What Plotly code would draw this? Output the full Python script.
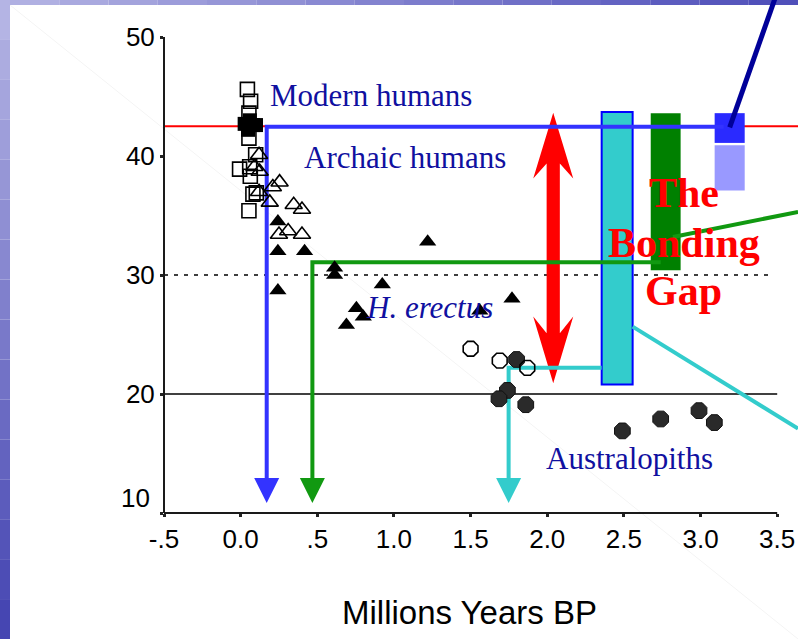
import plotly.graph_objects as go

# ---------------------------------------------------------------- data
# Open squares / filled squares: modern humans
sq_open_x = [0.044, 0.065, 0.054, 0.054, 0.098, -0.007, 0.059, 0.063, 0.102, 0.080, 0.054]
sq_open_y = [45.6, 44.6, 43.6, 41.5, 40.1, 38.9, 39.1, 38.3, 36.9, 36.8, 35.4]
sq_fill_x = [0.026, 0.080, 0.048, 0.100, 0.060]
sq_fill_y = [42.7, 42.6, 42.2, 42.6, 43.0]

# Open triangles: archaic humans
tri_open_x = [0.12, 0.09, 0.124, 0.12, 0.254, 0.21, 0.19, 0.346, 0.40, 0.25, 0.31, 0.40]
tri_open_y = [40.1, 39.1, 38.7, 37.0, 37.8, 37.4, 36.1, 35.9, 35.5, 33.4, 33.7, 33.4]

# Filled triangles: H. erectus
tri_fill_x = [0.243, 0.243, 0.417, 0.243, 0.613, 0.613, 0.924, 1.22, 0.755, 0.80, 0.69, 1.56, 1.77]
tri_fill_y = [34.5, 32.0, 32.0, 28.7, 30.6, 30.0, 29.2, 32.8, 27.2, 26.5, 25.8, 27.0, 28.0]

# Open and filled circles: australopiths
circ_open_x = [1.50, 1.69, 1.87]
circ_open_y = [23.8, 22.8, 22.2]
circ_fill_x = [1.80, 1.74, 1.685, 1.86, 2.49, 2.74, 2.99, 3.09]
circ_fill_y = [22.9, 20.3, 19.6, 19.1, 16.9, 17.9, 18.6, 17.6]

# Reference levels
modern_level = 42.5
dashed_level = 30
solid_level = 20

# Connectors: (drop position, level, end of horizontal run, colour)
conn_x = [0.17, 0.468, 1.748]
conn_level = [42.46, 31.07, 22.2]
conn_end = [3.15, 2.74, 2.355]
conn_color = ["#3333ff", "#119911", "#33cccc"]
conn_arrow_top = 12.94

# Range bars on the right
bar_center = [2.456, 2.7725, 3.19, 3.19]
bar_width = [0.202, 0.195, 0.196, 0.196]
bar_base = [20.8, 30.4, 41.1, 37.1]
bar_top = [43.7, 43.6, 43.6, 40.9]
bar_fill = ["#33cccc", "#008000", "#2a2aff", "#9999ff"]
bar_edge = ["#0000ff", "#008000", "#2a2aff", "#9999ff"]
bar_edge_w = [2, 0, 0, 0]

# Callout leader lines
green_call_x = [2.82, 3.636]
green_call_y = [33.2, 35.3]
cyan_call_x = [2.557, 3.636]
cyan_call_y = [25.66, 17.1]
navy_call_x = [3.19, 3.49]
navy_call_y = [42.4, 53.4]

# Double arrow marking the gap
gap_x = 2.039
gap_top = 43.64
gap_bottom = 20.9

x_tickvals = [-0.5, 0.0, 0.5, 1.0, 1.5, 2.0, 2.5, 3.0, 3.5]
x_ticktext = ["-.5", "0.0", ".5", "1.0", "1.5", "2.0", "2.5", "3.0", "3.5"]
y_tickvals = [10, 20, 30, 40, 50]
y_ticktext = ["", "20", "30", "40", "50"]

# ---------------------------------------------------------------- geometry
W, H = 798, 639
L, B = 164, 126
PW, PH = W - L, H - B
XPX, YPX = 153.3, 11.9          # pixels per data unit
x_range = [-0.5, -0.5 + PW / XPX]
y_range = [10, 10 + PH / YPX]


def dx(px):
    return px / XPX


def dy(px):
    return px / YPX


def pxp(px):
    return (px - L) / PW


def pyp(py):
    return (PH - py) / PH


fig = go.Figure()

# range bars
for c, w, b, t, f, e, ew in zip(bar_center, bar_width, bar_base, bar_top, bar_fill, bar_edge, bar_edge_w):
    fig.add_trace(go.Bar(x=[c], y=[t - b], base=[b], width=[w],
                         marker=dict(color=f, line=dict(color=e, width=ew)),
                         hoverinfo="skip"))

# connectors
for x, lv, end, col in zip(conn_x, conn_level, conn_end, conn_color):
    fig.add_trace(go.Scatter(x=[end, x, x], y=[lv, lv, conn_arrow_top], mode="lines",
                             line=dict(color=col, width=4)))

# callout lines
fig.add_trace(go.Scatter(x=green_call_x, y=green_call_y, mode="lines",
                         line=dict(color="#119911", width=4)))
fig.add_trace(go.Scatter(x=cyan_call_x, y=cyan_call_y, mode="lines",
                         line=dict(color="#33cccc", width=4)))
fig.add_trace(go.Scatter(x=navy_call_x, y=navy_call_y, mode="lines",
                         line=dict(color="#000099", width=5)))

# fossils
fig.add_trace(go.Scatter(x=circ_fill_x, y=circ_fill_y, mode="markers",
                         marker=dict(symbol="octagon", size=17, color="#2a2a2a",
                                     line=dict(color="#111", width=1))))
fig.add_trace(go.Scatter(x=circ_open_x, y=circ_open_y, mode="markers",
                         marker=dict(symbol="octagon-open", size=16, color="black",
                                     line=dict(width=1.6))))
fig.add_trace(go.Scatter(x=tri_fill_x, y=tri_fill_y, mode="markers",
                         marker=dict(symbol="triangle-up", size=15, color="black")))
fig.add_trace(go.Scatter(x=tri_open_x, y=tri_open_y, mode="markers",
                         marker=dict(symbol="triangle-up-open", size=15, color="black",
                                     line=dict(width=1.6))))
fig.add_trace(go.Scatter(x=sq_fill_x, y=sq_fill_y, mode="markers",
                         marker=dict(symbol="square", size=14, color="black")))
fig.add_trace(go.Scatter(x=sq_open_x, y=sq_open_y, mode="markers",
                         marker=dict(symbol="square-open", size=14, color="black",
                                     line=dict(width=1.6))))

shapes = []

# slide frame: faint diagonal and textured blue edges
shapes.append(dict(type="line", xref="paper", yref="paper", x0=pxp(10), y0=pyp(5),
                   x1=pxp(798), y1=pyp(639), line=dict(color="#f4f4f4", width=1), layer="below"))
n = 16
for i in range(n):
    t = i / (n - 1)
    r = int(180 - 110 * t)
    g = int(180 - 110 * t)
    b_ = int(228 - 50 * t)
    y_a = i * H / n
    y_b = (i + 1) * H / n
    shapes.append(dict(type="rect", xref="paper", yref="paper", x0=pxp(0), x1=pxp(10),
                       y0=pyp(y_b), y1=pyp(y_a), line=dict(width=0),
                       fillcolor=f"rgb({r},{g},{b_})", layer="below"))
for i in range(n):
    t = i / (n - 1)
    r = int(176 - 96 * t)
    g = int(176 - 96 * t)
    b_ = int(226 - 40 * t)
    x_a = 10 + i * (W - 10) / n
    x_b = 10 + (i + 1) * (W - 10) / n
    shapes.append(dict(type="rect", xref="paper", yref="paper", x0=pxp(x_a), x1=pxp(x_b),
                       y0=pyp(5), y1=pyp(0), line=dict(width=0),
                       fillcolor=f"rgb({r},{g},{b_})", layer="below"))

# reference levels
shapes.append(dict(type="line", x0=-0.5, x1=3.5, y0=solid_level, y1=solid_level,
                   line=dict(color="black", width=1.5), layer="below"))
shapes.append(dict(type="line", x0=-0.5, x1=3.44, y0=dashed_level, y1=dashed_level,
                   line=dict(color="black", width=1.5, dash="4px,6px"), layer="below"))
shapes.append(dict(type="line", x0=-0.5, x1=x_range[1], y0=modern_level, y1=modern_level,
                   line=dict(color="#ff0000", width=1.8), layer="below"))

# red double arrow
hw, sw = 20, 6.6
p = [
    (gap_x, gap_top),
    (gap_x + dx(hw), gap_top - dy(65.7)),
    (gap_x + dx(sw), gap_top - dy(50.7)),
    (gap_x + dx(sw), gap_bottom + dy(50.0)),
    (gap_x + dx(hw), gap_bottom + dy(66.7)),
    (gap_x, gap_bottom),
    (gap_x - dx(hw), gap_bottom + dy(66.7)),
    (gap_x - dx(sw), gap_bottom + dy(50.0)),
    (gap_x - dx(sw), gap_top - dy(50.7)),
    (gap_x - dx(hw), gap_top - dy(65.7)),
]
path = "M " + " L ".join(f"{a},{b}" for a, b in p) + " Z"
shapes.append(dict(type="path", path=path, fillcolor="#ff0000", line=dict(width=0), layer="below"))

# connector arrowheads
for x, col in zip(conn_x, conn_color):
    tip = conn_arrow_top - dy(25)
    pth = (f"M {x - dx(12.5)},{conn_arrow_top} L {x + dx(12.5)},{conn_arrow_top} "
           f"L {x},{tip} Z")
    shapes.append(dict(type="path", path=pth, fillcolor=col, line=dict(width=0)))

# axis lines
shapes.append(dict(type="line", xref="paper", yref="paper", x0=0, x1=0, y0=0,
                   y1=(50 - 10) * YPX / PH, line=dict(color="#1a1a1a", width=2)))
shapes.append(dict(type="line", xref="paper", yref="paper", x0=0, x1=4 * XPX / PW,
                   y0=0, y1=0, line=dict(color="#1a1a1a", width=2)))

label_font = dict(family="Liberation Serif, Times New Roman, serif", size=31, color="#1010a0")
gap_font = dict(family="Liberation Serif, Times New Roman, serif", size=42, color="#ff0000")
annotations = [
    dict(x=0.180, y=45.05, text="Modern humans", xanchor="left", yanchor="middle",
         showarrow=False, font=label_font),
    dict(x=0.398, y=39.85, text="Archaic humans", xanchor="left", yanchor="middle",
         showarrow=False, font=label_font),
    dict(x=0.805, y=27.3, text="<i>H. erectus</i>", xanchor="left", yanchor="middle",
         showarrow=False, font=label_font),
    dict(x=1.978, y=14.55, text="Australopiths", xanchor="left", yanchor="middle",
         showarrow=False, font=label_font),
    dict(x=2.89, y=36.9, text="<b>The</b>", xanchor="center", yanchor="middle",
         showarrow=False, font=gap_font),
    dict(x=2.89, y=32.7, text="<b>Bonding</b>", xanchor="center", yanchor="middle",
         showarrow=False, font=gap_font),
    dict(x=2.89, y=28.67, text="<b>Gap</b>", xanchor="center", yanchor="middle",
         showarrow=False, font=gap_font),
    dict(xref="paper", yref="paper", x=pxp(152), y=pyp(497.7), text="10",
         xanchor="right", yanchor="middle", showarrow=False,
         font=dict(family="Liberation Sans, Arial, sans-serif", size=26, color="black")),
    dict(xref="paper", yref="paper", x=pxp(469.2), y=pyp(612.0), text="Millions Years BP",
         xanchor="center", yanchor="middle", showarrow=False,
         font=dict(family="Liberation Sans, Arial, sans-serif", size=33, color="black")),
]

tick_font = dict(family="Liberation Sans, Arial, sans-serif", size=26, color="black")
fig.update_layout(
    width=W, height=H,
    margin=dict(l=L, r=0, t=0, b=B, pad=0),
    paper_bgcolor="white", plot_bgcolor="rgba(0,0,0,0)",
    showlegend=False, barmode="overlay",
    shapes=shapes, annotations=annotations,
    xaxis=dict(range=x_range, tickvals=x_tickvals, ticktext=x_ticktext, showgrid=False,
               zeroline=False, showline=False, ticks="outside", ticklen=3, tickwidth=2.5,
               tickcolor="#222", tickfont=tick_font),
    yaxis=dict(range=y_range, tickvals=y_tickvals, ticktext=y_ticktext, showgrid=False,
               zeroline=False, showline=False, ticks="outside", ticklen=3, tickwidth=2.5,
               tickcolor="#222", tickfont=tick_font),
)

fig.write_html("out.html")
